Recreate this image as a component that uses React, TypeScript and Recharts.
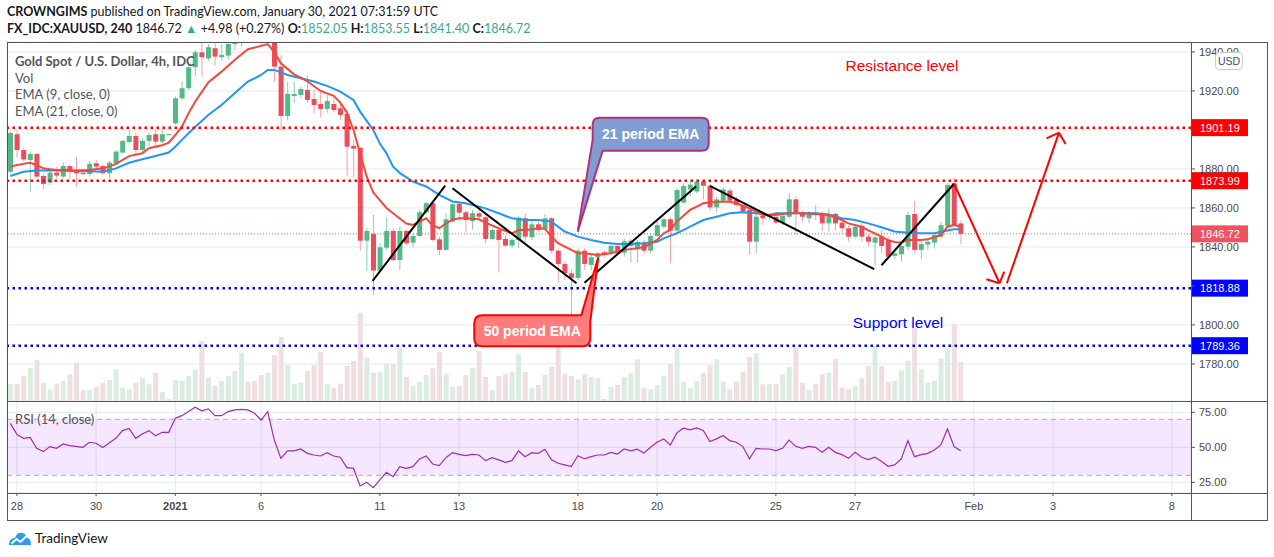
import React from "react";
import {
  ComposedChart, Bar, Line, XAxis, YAxis, CartesianGrid,
  ReferenceLine, ReferenceArea, ReferenceDot,
} from "recharts";

// XAUUSD 4h candles, Dec 28 2020 -> Jan 29 2021.
const OPEN = [
  1878.6, 1897.8, 1889.7, 1884.6, 1887.7, 1876.4, 1873.0, 1878.1, 1876.1, 1881.5,
  1879.5, 1878.0, 1877.4, 1882.9, 1881.5, 1877.8, 1882.9, 1888.4, 1893.8, 1896.9,
  1889.7, 1894.4, 1897.8, 1894.0, 1897.8, 1903.4, 1916.2, 1921.4, 1932.1, 1939.8,
  1936.7, 1941.9, 1937.3, 1938.1, 1944.0, 1947.0, 1952.0, 1950.0, 1949.0, 1945.5,
  1947.0, 1932.5, 1907.2, 1917.4, 1917.9, 1920.5, 1915.9, 1913.3, 1910.8, 1913.3,
  1911.1, 1908.2, 1891.8, 1890.9, 1843.2, 1846.7, 1827.9, 1839.6, 1848.2, 1833.3,
  1848.2, 1842.2, 1845.6, 1857.8, 1862.4, 1843.9, 1838.5, 1853.0, 1862.1, 1857.8,
  1853.3, 1857.3, 1855.2, 1844.1, 1848.7, 1844.1, 1840.7, 1843.6, 1854.7, 1845.0,
  1851.6, 1849.2, 1854.7, 1838.1, 1831.3, 1826.5, 1824.1, 1838.1, 1830.8, 1834.7,
  1837.3, 1837.1, 1840.5, 1837.1, 1840.5, 1838.8, 1842.2, 1838.1, 1845.6, 1850.4,
  1854.2, 1848.4, 1862.7, 1869.5, 1868.4, 1873.5, 1871.4, 1860.3, 1863.7, 1868.9,
  1864.4, 1861.5, 1858.9, 1842.7, 1855.9, 1855.4, 1855.5, 1852.5, 1855.5, 1864.4,
  1857.6, 1854.7, 1857.6, 1856.9, 1852.1, 1856.9, 1852.5, 1849.6, 1845.3, 1850.8,
  1845.3, 1842.2, 1845.3, 1843.6, 1835.4, 1836.2, 1840.2, 1856.9, 1838.5, 1841.2,
  1842.2, 1845.3, 1850.8, 1872.6, 1852.05,
];
const HIGH = [
  1899.2, 1900.0, 1890.6, 1889.0, 1888.0, 1877.8, 1879.5, 1881.2, 1883.2, 1882.0,
  1886.3, 1879.2, 1884.1, 1884.6, 1882.4, 1884.1, 1889.7, 1894.9, 1900.0, 1898.3,
  1895.7, 1898.6, 1900.3, 1900.3, 1898.0, 1917.1, 1924.8, 1933.3, 1941.0, 1944.4,
  1944.0, 1944.4, 1944.0, 1945.3, 1953.0, 1956.0, 1958.0, 1957.0, 1953.0, 1952.0,
  1950.0, 1938.5, 1924.8, 1924.8, 1922.2, 1927.7, 1920.5, 1920.5, 1917.9, 1916.2,
  1913.7, 1910.3, 1894.9, 1891.0, 1849.6, 1856.4, 1841.9, 1855.2, 1849.6, 1850.4,
  1849.0, 1847.0, 1859.0, 1863.2, 1862.9, 1845.3, 1857.3, 1862.9, 1862.9, 1859.0,
  1859.0, 1859.8, 1856.4, 1849.6, 1850.4, 1846.1, 1844.4, 1855.9, 1857.3, 1853.0,
  1853.0, 1856.9, 1855.5, 1839.3, 1832.5, 1828.2, 1839.3, 1839.3, 1835.9, 1837.6,
  1838.1, 1841.5, 1841.9, 1844.4, 1844.1, 1843.6, 1843.6, 1847.0, 1853.0, 1855.5,
  1855.5, 1870.1, 1872.6, 1873.5, 1874.7, 1874.4, 1872.3, 1865.8, 1870.6, 1870.1,
  1865.8, 1862.7, 1859.8, 1856.9, 1857.3, 1857.3, 1856.4, 1857.3, 1867.5, 1866.1,
  1858.6, 1858.6, 1861.5, 1858.1, 1859.8, 1857.6, 1853.8, 1851.2, 1851.8, 1852.5,
  1846.7, 1847.9, 1848.7, 1845.3, 1838.5, 1841.9, 1858.1, 1863.7, 1842.7, 1844.4,
  1847.3, 1853.0, 1873.0, 1875.5, 1853.55,
];
const LOW = [
  1877.8, 1886.0, 1883.7, 1868.4, 1875.2, 1869.7, 1871.8, 1875.2, 1875.2, 1874.7,
  1870.9, 1876.8, 1876.1, 1880.3, 1876.9, 1875.2, 1882.1, 1888.0, 1893.2, 1887.2,
  1888.0, 1891.8, 1891.4, 1893.0, 1897.5, 1902.6, 1915.4, 1920.5, 1927.7, 1927.3,
  1935.5, 1932.8, 1935.5, 1935.9, 1941.0, 1942.7, 1946.0, 1946.0, 1943.0, 1943.5,
  1924.8, 1899.6, 1904.8, 1913.7, 1916.2, 1913.7, 1908.5, 1906.5, 1908.9, 1908.9,
  1905.0, 1876.4, 1875.7, 1838.1, 1827.7, 1815.4, 1827.0, 1838.5, 1832.5, 1828.2,
  1841.0, 1839.8, 1845.3, 1857.0, 1842.7, 1835.9, 1838.1, 1852.5, 1853.0, 1847.3,
  1849.0, 1853.8, 1841.9, 1843.6, 1826.8, 1840.2, 1839.3, 1839.3, 1842.7, 1843.6,
  1847.9, 1848.7, 1836.7, 1821.7, 1823.0, 1800.8, 1823.0, 1828.2, 1828.2, 1834.2,
  1835.0, 1835.9, 1835.9, 1835.0, 1832.0, 1831.9, 1836.7, 1836.7, 1845.3, 1849.6,
  1831.6, 1847.0, 1862.4, 1866.0, 1867.5, 1864.4, 1858.6, 1858.0, 1863.2, 1862.4,
  1860.7, 1857.3, 1835.9, 1836.7, 1851.2, 1853.8, 1851.8, 1851.2, 1854.7, 1846.1,
  1853.0, 1852.1, 1853.8, 1848.4, 1847.9, 1848.7, 1847.3, 1842.7, 1844.4, 1842.7,
  1840.2, 1830.3, 1836.7, 1834.2, 1833.7, 1832.5, 1838.5, 1836.7, 1833.7, 1838.5,
  1839.3, 1844.4, 1849.6, 1850.8, 1841.40,
];
const CLOSE = [
  1898.4, 1889.7, 1884.9, 1887.7, 1876.1, 1872.3, 1878.1, 1876.6, 1881.5, 1879.5,
  1877.8, 1877.4, 1882.6, 1881.2, 1877.8, 1883.2, 1888.9, 1894.4, 1896.9, 1889.7,
  1894.4, 1897.4, 1894.0, 1897.8, 1897.9, 1916.2, 1921.4, 1932.1, 1939.8, 1937.3,
  1942.4, 1937.6, 1938.5, 1944.1, 1950.0, 1952.0, 1949.0, 1947.0, 1945.5, 1947.0,
  1932.5, 1907.2, 1918.5, 1918.4, 1921.0, 1915.4, 1912.8, 1910.8, 1914.9, 1910.2,
  1907.7, 1891.4, 1890.4, 1843.2, 1848.2, 1827.9, 1839.8, 1848.2, 1833.3, 1848.2,
  1841.9, 1845.6, 1857.8, 1862.4, 1843.6, 1838.5, 1854.2, 1861.9, 1857.6, 1853.8,
  1857.3, 1855.5, 1844.1, 1848.7, 1843.6, 1840.7, 1843.6, 1855.0, 1845.3, 1851.6,
  1848.7, 1854.7, 1838.1, 1831.3, 1826.5, 1824.1, 1838.1, 1831.3, 1834.7, 1836.7,
  1835.9, 1840.5, 1836.7, 1842.9, 1843.3, 1842.6, 1838.1, 1845.6, 1851.2, 1854.2,
  1848.4, 1869.2, 1871.3, 1872.0, 1873.5, 1871.4, 1860.3, 1864.4, 1869.5, 1863.7,
  1861.5, 1858.1, 1842.7, 1855.5, 1854.7, 1856.2, 1852.5, 1855.9, 1864.4, 1857.3,
  1855.5, 1857.6, 1856.4, 1852.1, 1856.9, 1852.1, 1849.6, 1845.3, 1850.4, 1845.3,
  1842.7, 1844.9, 1840.5, 1835.0, 1836.7, 1840.5, 1856.4, 1838.5, 1841.5, 1842.7,
  1846.1, 1851.2, 1871.8, 1851.2, 1846.72,
];
// volume (thousands of ticks, relative)
const VOLUME = [
  17.3, 17.3, 25, 33.3, 41, 18.3, 11.7, 17.3, 20, 26.7,
  38.3, 11, 11, 14, 18.3, 21, 31.7, 13.3, 11.7, 18.3,
  23.3, 16.7, 28.3, 9.3, 2, 21, 20, 25, 31.7, 60,
  23.3, 15, 20, 25, 30, 48.3, 19.3, 20, 26, 28.3,
  46, 64, 36, 17.3, 18.3, 30, 36, 49, 17.3, 13.3,
  17.3, 35, 40, 88.3, 43.3, 28.3, 29.3, 37.3, 36.7, 53.3,
  24, 15, 19.3, 26, 33.3, 49, 27.3, 14, 15, 26,
  33.3, 50, 24, 11, 25, 27.3, 29, 46.7, 29, 13.3,
  16, 26, 34.3, 60.7, 27.3, 25, 21.7, 26.7, 24, 22.7,
  2, 14, 16, 24, 28.3, 41.7, 13.3, 11.7, 15.7, 25,
  36.7, 52.7, 19.3, 13.3, 20, 28.3, 36, 41.7, 19.3, 11.7,
  19.3, 29.3, 44, 47.7, 16.7, 17.3, 17.3, 26.7, 34, 54,
  18.3, 11, 17.3, 26.7, 28.3, 42.3, 13.3, 11.7, 15, 22.7,
  35, 55, 35, 19.3, 20, 30.7, 40, 73.3, 31.7, 18.3,
  20, 42.3, 52.7, 76.7, 39,
];
// [candle index, value]
const EMA9 = [
  [0, 1881.2], [1, 1882], [2, 1882.6], [3, 1883.2], [4, 1882], [5, 1880.3], [6, 1879.8], [7, 1879.5],
  [8, 1879.5], [10, 1879.2], [12, 1879.5], [14, 1880.3], [15, 1881.2], [16, 1882.6], [18, 1886.6],
  [20, 1888], [21, 1890.6], [23, 1892.1], [24, 1893.5], [25, 1897.4], [26, 1901.7], [27, 1908.5],
  [28, 1914.5], [30, 1924.4], [32, 1929.9], [34, 1935.9], [36, 1941.4], [38, 1943.1], [39, 1944],
  [40, 1940], [41, 1934.2], [43, 1928.5], [45, 1925], [47, 1920], [49, 1917.5], [50, 1914],
  [51, 1909], [52, 1900], [53, 1888], [54, 1876], [55, 1868], [56, 1864], [57, 1860], [58, 1857.3],
  [60, 1852], [61, 1851.3], [62, 1853], [63, 1854.7], [64, 1851], [65, 1849.6], [66, 1852],
  [67, 1854], [68, 1854.7], [69, 1854.7], [71, 1854.2], [72, 1852.5], [74, 1849.6], [76, 1847],
  [77, 1848.7], [79, 1849], [80, 1849.6], [81, 1849.3], [82, 1845.3], [83, 1841.9], [85, 1838.5],
  [86, 1836.8], [87, 1836.8], [89, 1835.9], [91, 1836.8], [93, 1838.5], [95, 1839.3], [96, 1839.8],
  [98, 1843.6], [99, 1847], [100, 1848.7], [101, 1853], [102, 1856], [103, 1859], [104, 1860.7],
  [105, 1862.4], [107, 1863.2], [109, 1863.2], [110, 1862.4], [112, 1859.8], [114, 1856.4],
  [116, 1856.4], [118, 1857.3], [120, 1857.3], [122, 1856.9], [124, 1856.4], [126, 1853.8],
  [127, 1852.1], [129, 1850.4], [130, 1848.5], [131, 1847], [132, 1845.3], [133, 1843.5],
  [134, 1842.5], [135, 1842.2], [136, 1843.6], [138, 1843.6], [139, 1843.9], [141, 1846.1],
  [142, 1850.4], [143, 1851.3], [144, 1850.4],
];
const EMA21 = [
  [0, 1876.4], [2, 1878.6], [4, 1879.2], [7, 1879.2], [10, 1878.9], [12, 1878.8], [14, 1878.6],
  [16, 1880.3], [18, 1883.2], [20, 1885], [22, 1886.6], [24, 1888.4], [25, 1891.4], [26, 1894.9],
  [27, 1898.3], [28, 1901.5], [30, 1907.7], [32, 1912.8], [34, 1918.8], [36, 1924.8], [38, 1928.2],
  [39, 1930.8], [40, 1930.8], [42, 1928.2], [44, 1926.5], [46, 1924.8], [48, 1922.6], [50, 1919.7],
  [52, 1915.4], [53, 1909.4], [55, 1900], [56, 1893], [57, 1888], [58, 1881.2], [59, 1878],
  [61, 1873.5], [63, 1871], [65, 1866.7], [67, 1863.3], [69, 1862.4], [72, 1859.8], [74, 1857.3],
  [76, 1854.7], [78, 1853.8], [80, 1853.8], [82, 1853], [84, 1847.9], [86, 1845.3], [88, 1843.6],
  [90, 1842.2], [92, 1841.5], [94, 1841.5], [96, 1841.9], [98, 1842.7], [99, 1844.4], [101, 1847],
  [103, 1850.4], [105, 1853.8], [107, 1855.5], [109, 1857.3], [111, 1857.8], [113, 1857.3],
  [115, 1856.4], [116, 1857.3], [118, 1857.3], [120, 1857.3], [122, 1857.3], [124, 1856.7],
  [126, 1854.7], [128, 1853.8], [130, 1852.1], [132, 1850.1], [134, 1847.9], [136, 1847.3],
  [138, 1847], [140, 1847], [142, 1848.4], [143, 1849.1], [144, 1849.1],
];
const RSI = [
  [0, 67.1], [1, 59.2], [2, 56.4], [3, 57.1], [4, 49.3], [5, 46.9], [6, 50.5], [7, 49.3], [8, 52.4],
  [9, 51.2], [11, 50], [12, 53.6], [13, 52.9], [14, 49.8], [16, 56.4], [17, 61.9], [18, 63.5],
  [19, 56.4], [20, 59.5], [21, 61.9], [22, 58.3], [23, 60.7], [24, 60.7], [25, 70.7], [26, 72.6],
  [27, 75.5], [28, 78.6], [29, 76], [30, 77.4], [31, 72.6], [32, 72.6], [33, 75.5], [34, 76.7],
  [35, 77.1], [36, 76.7], [37, 74.3], [38, 69.5], [39, 75.5], [40, 55.2], [41, 42.1], [42, 47.4],
  [43, 47.4], [44, 48.8], [45, 45.7], [46, 44.5], [47, 43.8], [48, 46.2], [49, 43.8], [50, 42.9],
  [51, 35.5], [52, 35], [53, 22.4], [54, 25], [55, 21.2], [56, 26.7], [57, 32.1], [58, 29],
  [59, 36.2], [60, 35], [61, 36.2], [62, 41.7], [63, 43.8], [64, 38.1], [65, 36.9], [66, 42.6],
  [67, 46.2], [68, 45], [69, 44], [70, 45], [71, 44.5], [72, 40.5], [73, 42.6], [74, 41],
  [75, 39.3], [76, 40.5], [77, 47.4], [78, 43.3], [79, 46.2], [80, 45.7], [81, 48.6], [82, 41],
  [83, 38.6], [84, 37.4], [85, 36.2], [86, 44], [87, 41.7], [88, 43.3], [89, 44.5], [90, 44.5],
  [91, 46.4], [92, 45.2], [93, 48.8], [94, 47.4], [95, 48.6], [96, 46], [97, 50], [98, 53.6],
  [99, 56], [100, 51.7], [101, 60.3], [102, 63.6], [103, 62.4], [104, 63.8], [105, 62], [106, 54.1],
  [107, 56], [108, 58.4], [109, 54.8], [110, 53.6], [111, 50.5], [112, 41.7], [113, 49.3],
  [114, 48.8], [115, 48.8], [116, 47.6], [117, 49.3], [118, 55.2], [119, 50.7], [120, 49.3],
  [121, 50.7], [122, 50], [123, 46.4], [124, 50], [125, 46.4], [126, 44.8], [127, 42.1], [128, 46.4],
  [129, 42.9], [130, 41.2], [131, 42.9], [132, 40], [133, 36.4], [134, 37.4], [135, 41.7],
  [136, 54.8], [137, 43.3], [138, 44.8], [139, 45.7], [140, 48.1], [141, 51.7], [142, 63.1],
  [143, 50.5], [144, 47.6],
];

const DATE_TICKS = [1, 13, 25, 38, 56, 68, 86, 98, 116, 128, 146, 158, 176];
const DATE_LABELS = ["28", "30", "2021", "6", "11", "13", "18", "20", "25", "27", "Feb", "3", "8"];
const PRICE_TICKS = [1780, 1800, 1820, 1840, 1860, 1880, 1900, 1920, 1940];
const RSI_TICKS = [25, 50, 75];

const RESISTANCE = [1901.19, 1873.99];
const SUPPORT = [1818.88, 1789.36];
const LAST_PRICE = 1846.72;

// drawings on the chart: [idx, price] pairs
const TREND_LINES = [
  [[54.9, 1822.6], [65.9, 1871.4]],
  [[67, 1870.1], [85.8, 1821.4]],
  [[87, 1821.7], [103.9, 1871]],
  [[106, 1871.3], [130.9, 1828.6]],
  [[132, 1830.6], [143, 1872.4]],
];
const FORECAST = [
  [[143, 1872.4], [149.9, 1821.4]],
  [[149.9, 1821.4], [147.9, 1823.4]],
  [[149.9, 1821.4], [150.6, 1827.3]],
  [[151, 1821.4], [158.9, 1898.6]],
  [[158.9, 1898.6], [157, 1895.7]],
  [[158.9, 1898.6], [159.9, 1892.8]],
];

const X_DOMAIN = [-0.5, 178.9];
const UP = "#53b987";
const DOWN = "#eb4d5c";
const GRID = "#e1eaf1";
const AXIS_FONT = "'Liberation Sans', Arial, sans-serif";
const UI_FONT = "Lato, 'Open Sans', sans-serif";

const rows = OPEN.map((o, i) => ({
  i,
  open: o,
  high: HIGH[i],
  low: LOW[i],
  close: CLOSE[i],
  range: [LOW[i], HIGH[i]],
  vol: VOLUME[i],
  up: CLOSE[i] >= o,
  ema9: null as number | null,
  ema21: null as number | null,
}));
EMA9.forEach(([i, v]) => { rows[i].ema9 = v; });
EMA21.forEach(([i, v]) => { rows[i].ema21 = v; });

const rsiRows = RSI.map(([i, v]) => ({ i, rsi: v }));

function renderCandle(props: any) {
  const { x, y, width, height, payload } = props;
  if (!payload || height == null) return <g />;
  const { open, close, high, low } = payload;
  const k = high === low ? 0 : height / (high - low);
  const yo = y + (high - open) * k;
  const yc = y + (high - close) * k;
  const up = close >= open;
  const cx = x + width / 2;
  return (
    <g>
      <line x1={cx} x2={cx} y1={y} y2={y + height} stroke={up ? "#95c6b8" : "#f2a1a9"} strokeWidth={1} />
      <rect x={x} y={Math.min(yo, yc)} width={width} height={Math.max(1, Math.abs(yo - yc))} fill={up ? UP : DOWN} />
    </g>
  );
}

function renderVolume(props: any) {
  const { x, y, width, height, payload } = props;
  if (!payload) return <g />;
  return <rect x={x} y={y} width={width} height={height} fill={payload.up ? "#dbede1" : "#efdfe0"} />;
}

function renderPriceTick(props: any) {
  const { x, y, payload } = props;
  const v = payload.value;
  if (v === 1900 || v === 1820) return <g />;
  return (
    <text x={x} y={y} dy={4} fontSize={11} fill="#4a4a4a" fontFamily={AXIS_FONT}>
      {v.toFixed(2)}
    </text>
  );
}

function priceTag(color: string, value: number) {
  return (props: any) => {
    const vb = props.viewBox;
    if (!vb) return null;
    const x = vb.x + vb.width;
    return (
      <g>
        <rect x={x} y={vb.y - 8.5} width={57} height={17} fill={color} />
        <text x={x + 9} y={vb.y + 4} fontSize={11} fill="#ffffff" fontFamily={AXIS_FONT}>
          {value.toFixed(2)}
        </text>
      </g>
    );
  };
}

function renderDateTick(props: any) {
  const { x, y, payload } = props;
  const label = DATE_LABELS[DATE_TICKS.indexOf(payload.value)];
  return (
    <text x={x} y={y} dy={12} textAnchor="middle" fontSize={11} fill="#4a4a4a"
      fontWeight={label === "2021" ? 700 : 400} fontFamily={AXIS_FONT}>
      {label}
    </text>
  );
}

function ema21Callout(props: any) {
  const { cx, cy } = props;
  const x0 = cx + 15, x1 = cx + 131, y0 = cy - 114, y1 = cy - 81, r = 7;
  const d = `M${x0 + r},${y0} H${x1 - r} Q${x1},${y0} ${x1},${y0 + r} V${y1 - r} Q${x1},${y1} ${x1 - r},${y1} ` +
    `H${cx + 25} L${cx},${cy} L${x0},${cy - 92} V${y0 + r} Q${x0},${y0} ${x0 + r},${y0} Z`;
  return (
    <g>
      <path d={d} fill="#7f9dd0" stroke="#b0327c" strokeWidth={2} />
      <text x={(x0 + x1) / 2} y={(y0 + y1) / 2 + 5} textAnchor="middle" fill="#ffffff"
        fontSize={14} fontWeight={700} fontFamily={AXIS_FONT}>21 period EMA</text>
    </g>
  );
}

function ema50Callout(props: any) {
  const { cx, cy } = props;
  const x0 = cx - 124, x1 = cx - 8, y0 = cy + 58, y1 = cy + 89, r = 8;
  const d = `M${x0 + r},${y0} H${cx - 17} L${cx},${cy} L${x1},${cy + 64} V${y1 - r} Q${x1},${y1} ${x1 - r},${y1} ` +
    `H${x0 + r} Q${x0},${y1} ${x0},${y1 - r} V${y0 + r} Q${x0},${y0} ${x0 + r},${y0} Z`;
  return (
    <g>
      <path d={d} fill="#ff7c7c" stroke="#ff0000" strokeWidth={2} />
      <text x={(x0 + x1) / 2} y={(y0 + y1) / 2 + 5} textAnchor="middle" fill="#ffffff"
        fontSize={14} fontWeight={700} fontFamily={AXIS_FONT}>50 period EMA</text>
    </g>
  );
}

function textMark(text: string, color: string) {
  return (props: any) => (
    <text x={props.cx} y={props.cy + 5} textAnchor="middle" fill={color} fontSize={15.5} fontFamily={AXIS_FONT}>
      {text}
    </text>
  );
}

function TVLogo() {
  return (
    <svg width={24} height={16} viewBox="0 0 24 16">
      <path d="M1 15 C1 10 4 8 7 8 C8 4 11 2 14 3 C17 3 19 6 19 8 C22 8 23 11 23 15 Z" fill="#2e9bf0" />
      <polyline points="3.5,13.5 8.5,9 12.5,12 19,5.5" fill="none" stroke="#ffffff" strokeWidth={2} />
    </svg>
  );
}

const abs = (left: number, top: number, extra: React.CSSProperties = {}): React.CSSProperties => ({
  position: "absolute", left, top, whiteSpace: "nowrap", ...extra,
});

export default function App() {
  const legend: React.CSSProperties = { fontFamily: UI_FONT, fontSize: 13, color: "#555", lineHeight: "16px" };
  const header: React.CSSProperties = { fontFamily: UI_FONT, fontSize: 12.5, color: "#131722", lineHeight: "16px" };
  const teal = { color: "#3aa98f" };
  return (
    <div style={{ position: "absolute", left: 0, top: 0, width: 1274, height: 557, background: "#fff", overflow: "hidden" }}>
      <div style={abs(7, 4, header)}>
        <b>CROWNGIMS</b> published on TradingView.com, January 30, 2021 07:31:59 UTC
      </div>
      <div style={abs(7, 21, header)}>
        <b>FX_IDC:XAUUSD, 240</b> 1846.72 <span style={teal}>▲</span> +4.98 (+0.27%) <b>O:</b><span style={teal}>1852.05</span>{" "}
        <b>H:</b><span style={teal}>1853.55</span> <b>L:</b><span style={teal}>1841.40</span> <b>C:</b><span style={teal}>1846.72</span>
      </div>

      <div style={abs(0, 0)}>
        <ComposedChart width={1274} height={401} data={rows} margin={{ top: 42, right: 6, bottom: 0, left: 7 }}>
          <XAxis xAxisId="p" dataKey="i" type="number" domain={X_DOMAIN} allowDataOverflow ticks={DATE_TICKS}
            height={0} tick={false} tickLine={false} axisLine={false} />
          <XAxis xAxisId="v" dataKey="i" type="number" domain={X_DOMAIN} allowDataOverflow hide />
          <YAxis yAxisId="price" orientation="right" width={77} domain={[1761, 1945.1]} allowDataOverflow
            ticks={PRICE_TICKS} tick={renderPriceTick} tickSize={4} tickMargin={4}
            tickLine={{ stroke: "#555" }} axisLine={false} />
          <YAxis yAxisId="vol" hide domain={[0, 359]} />
          <CartesianGrid xAxisId="p" yAxisId="price" stroke={GRID} />
          <Bar xAxisId="v" yAxisId="vol" dataKey="vol" barSize={5} shape={renderVolume} isAnimationActive={false} />
          <Bar xAxisId="p" yAxisId="price" dataKey="range" barSize={5} shape={renderCandle} isAnimationActive={false} />
          <Line xAxisId="p" yAxisId="price" dataKey="ema21" stroke="#2196f3" strokeWidth={2} dot={false}
            connectNulls isAnimationActive={false} />
          <Line xAxisId="p" yAxisId="price" dataKey="ema9" stroke="#f4473d" strokeWidth={2} dot={false}
            connectNulls isAnimationActive={false} />
          <ReferenceLine xAxisId="p" yAxisId="price" y={LAST_PRICE} stroke="#ef5360" strokeDasharray="1 2"
            label={priceTag("#ef5360", LAST_PRICE)} />
          {RESISTANCE.map((v) => (
            <ReferenceLine key={v} xAxisId="p" yAxisId="price" y={v} stroke="#ff0000" strokeWidth={2.5}
              strokeDasharray="2.5 3.5" label={priceTag("#ff0000", v)} />
          ))}
          {SUPPORT.map((v) => (
            <ReferenceLine key={v} xAxisId="p" yAxisId="price" y={v} stroke="#0000ff" strokeWidth={2.5}
              strokeDasharray="2.5 3.5" label={priceTag("#0000ff", v)} />
          ))}
          {TREND_LINES.map((s, k) => (
            <ReferenceLine key={"t" + k} xAxisId="p" yAxisId="price" stroke="#000000" strokeWidth={2}
              segment={[{ x: s[0][0], y: s[0][1] }, { x: s[1][0], y: s[1][1] }]} />
          ))}
          {FORECAST.map((s, k) => (
            <ReferenceLine key={"f" + k} xAxisId="p" yAxisId="price" stroke="#ff0000" strokeWidth={2}
              segment={[{ x: s[0][0], y: s[0][1] }, { x: s[1][0], y: s[1][1] }]} />
          ))}
          <ReferenceDot xAxisId="p" yAxisId="price" x={85.97} y={1847.85} r={0} shape={ema21Callout} />
          <ReferenceDot xAxisId="p" yAxisId="price" x={89.09} y={1834.7} r={0} shape={ema50Callout} />
          <ReferenceDot xAxisId="p" yAxisId="price" x={135.1} y={1932.8} r={0} shape={textMark("Resistance level", "#ff0000")} />
          <ReferenceDot xAxisId="p" yAxisId="price" x={134.5} y={1801} r={0} shape={textMark("Support level", "#0000ff")} />
        </ComposedChart>
      </div>

      <div style={abs(0, 401)}>
        <ComposedChart width={1274} height={119} data={rsiRows} margin={{ top: 0, right: 6, bottom: 0, left: 7 }}>
          <XAxis dataKey="i" type="number" domain={X_DOMAIN} allowDataOverflow ticks={DATE_TICKS} height={27}
            tick={renderDateTick} tickSize={3} tickMargin={2} tickLine={{ stroke: "#555" }} axisLine={false} />
          <YAxis orientation="right" width={77} domain={[17.36, 83.07]} allowDataOverflow ticks={RSI_TICKS}
            tick={renderPriceTick} tickSize={4} tickMargin={4} tickLine={{ stroke: "#555" }} axisLine={false} />
          <CartesianGrid stroke={GRID} />
          <ReferenceArea y1={30} y2={70} fill="#9915ff" fillOpacity={0.1} stroke="none" />
          <ReferenceLine y={70} stroke="#b3a7bf" strokeDasharray="5 4" />
          <ReferenceLine y={30} stroke="#b3a7bf" strokeDasharray="5 4" />
          <Line dataKey="rsi" stroke="#a02bb5" strokeWidth={1.2} dot={false} connectNulls isAnimationActive={false} />
        </ComposedChart>
      </div>

      <div style={abs(15, 53, { ...legend, fontWeight: 700, color: "#555" })}>Gold Spot / U.S. Dollar, 4h, IDC</div>
      <div style={abs(15, 70, legend)}>Vol</div>
      <div style={abs(15, 86, legend)}>EMA (9, close, 0)</div>
      <div style={abs(15, 103, legend)}>EMA (21, close, 0)</div>
      <div style={abs(15, 411, legend)}>RSI (14, close)</div>

      <div style={abs(1215, 52, {
        width: 26, height: 16, border: "1px solid #c8cdd3", borderRadius: 4, background: "#fff",
        fontFamily: AXIS_FONT, fontSize: 10.5, color: "#4a4a4a", textAlign: "center", lineHeight: "16px",
      })}>USD</div>

      <svg width={1274} height={557} style={{ position: "absolute", left: 0, top: 0, pointerEvents: "none" }}>
        <g stroke="#555" strokeWidth={1} fill="none">
          <rect x={7.5} y={42.5} width={1260} height={478} />
          <line x1={7} x2={1268} y1={401.5} y2={401.5} />
          <line x1={7} x2={1268} y1={493.5} y2={493.5} />
          <line x1={1191.5} x2={1191.5} y1={42} y2={520} />
        </g>
      </svg>

      <div style={abs(8, 530, { display: "flex", alignItems: "center", gap: 3 })}>
        <TVLogo />
        <span style={{ fontFamily: UI_FONT, fontSize: 13.5, color: "#131722" }}>TradingView</span>
      </div>
    </div>
  );
}
